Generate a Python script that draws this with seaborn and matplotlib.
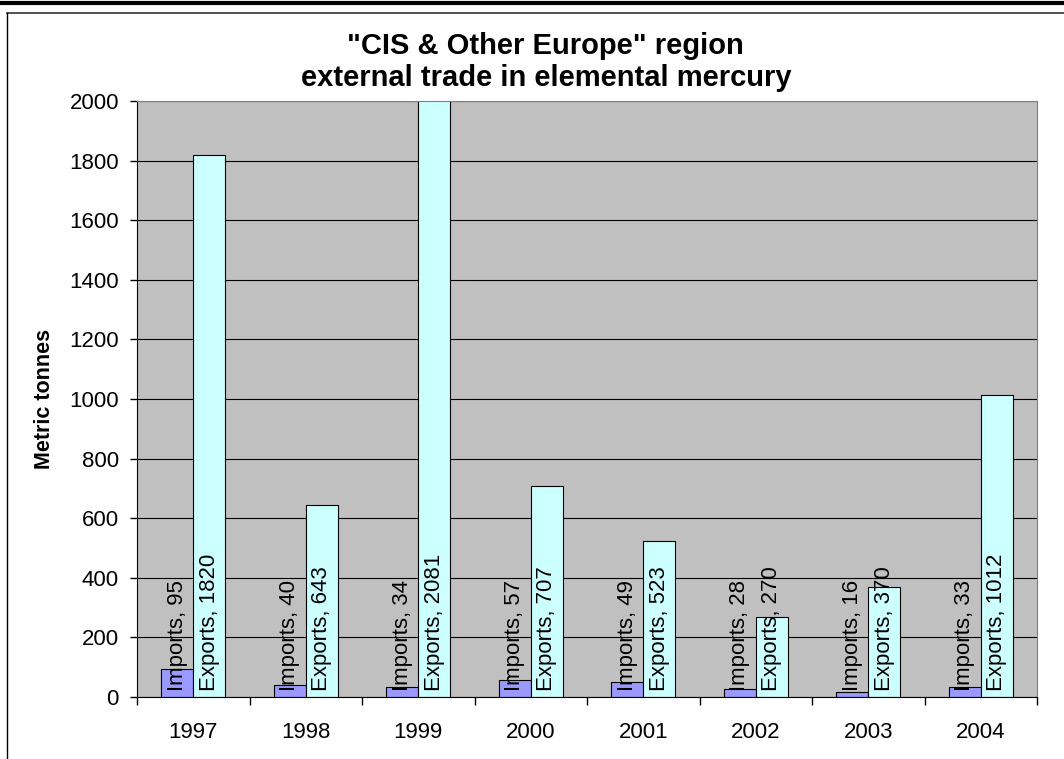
import numpy as np
import pandas as pd
import seaborn as sns
import matplotlib.pyplot as plt
from matplotlib.lines import Line2D

years = ['1997', '1998', '1999', '2000', '2001', '2002', '2003', '2004']
imports = [95, 40, 34, 57, 49, 28, 16, 33]
exports = [1820, 643, 2081, 707, 523, 270, 370, 1012]
series_names = ['Imports', 'Exports']
series_colors = ['#9999FF', '#CCFFFF']
yticks = list(range(0, 2001, 200))

plt.rcParams['font.family'] = ['Liberation Sans', 'DejaVu Sans']

df = pd.DataFrame({
    'year': years * 2,
    'value': imports + exports,
    'series': ['Imports'] * len(years) + ['Exports'] * len(years),
})

fig = plt.figure(figsize=(10.64, 7.59), dpi=100)
ax = fig.add_axes([0.1288, 0.0817, 0.8459, 0.7852])
ax.set_facecolor('#C0C0C0')
ax.set_axisbelow(True)

sns.barplot(data=df, x='year', y='value', hue='series', hue_order=series_names,
            palette=series_colors, saturation=1, width=0.57, edgecolor='black',
            linewidth=0.8, legend=False, ax=ax)

# labels sit at the base of each bar, like Excel "inside base"
for cont, name in zip(ax.containers, series_names):
    for bar, v in zip(cont, cont.datavalues):
        ax.annotate(f'{name}, {int(v)}', xy=(bar.get_x() + bar.get_width() / 2, 0),
                    xytext=(0, 4), textcoords='offset points', rotation=90,
                    ha='center', va='bottom', fontsize=16, color='black')

ax.set_ylim(0, 2000)
ax.set_xlim(-0.5, len(years) - 0.5)
ax.set_yticks(yticks)
ax.yaxis.grid(True, color='black', linewidth=0.8)
ax.xaxis.grid(False)

ax.set_xticks(range(len(years)))
ax.set_xticklabels(years)
ax.set_xticks(np.arange(-0.5, len(years)), minor=True)
ax.tick_params(axis='x', which='major', length=0, pad=18, labelsize=16)
ax.tick_params(axis='x', which='minor', length=6, width=1, direction='out')
ax.tick_params(axis='y', length=5, width=1, direction='out', pad=8, labelsize=16)

ax.set_xlabel('')
ax.set_ylabel('Metric tonnes', fontsize=15.5, fontweight='bold', labelpad=10)

for s in ['top', 'right']:
    ax.spines[s].set_color('#808080')
for s in ['left', 'bottom']:
    ax.spines[s].set_color('black')

fig.text(0.513, 1 - 62 / 759, '"CIS & Other Europe" region\nexternal trade in elemental mercury',
         ha='center', va='center', fontsize=21, fontweight='bold', linespacing=1.2)

# outer frame bits
fig.add_artist(Line2D([0, 1], [0.996, 0.996], color='black', lw=3, transform=fig.transFigure))
fig.add_artist(Line2D([0.0066, 1], [0.9829, 0.9829], color='#333333', lw=1.2, transform=fig.transFigure))
fig.add_artist(Line2D([0.0066, 0.0066], [0, 0.9829], color='black', lw=1, transform=fig.transFigure))

fig.savefig('out.png', dpi=100)
